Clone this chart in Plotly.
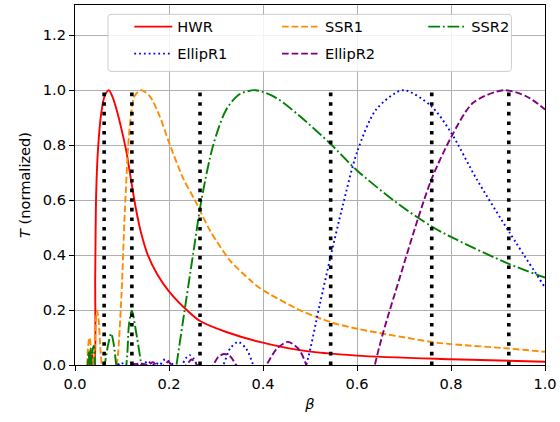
import plotly.graph_objects as go

# ---------------- data ----------------
hwr_beta = [0.030, 0.033, 0.036, 0.039, 0.041, 0.043, 0.045, 0.049, 0.056, 0.063, 0.072,
            0.080, 0.090, 0.100, 0.110, 0.120, 0.130, 0.140, 0.155, 0.175, 0.199,
            0.244, 0.266, 0.322, 0.393, 0.478, 0.600, 0.800, 1.000]
hwr_T = [-0.04, 0.02, 0.04, 0.0, 0.0, 0.32, 0.62, 0.786, 0.918, 0.978, 1.0,
         0.975, 0.92, 0.85, 0.77, 0.665, 0.565, 0.485, 0.40, 0.33, 0.27,
         0.19, 0.16, 0.12, 0.084, 0.054, 0.034, 0.021, 0.012]

ssr1_beta = [0.026, 0.028, 0.031, 0.034, 0.037, 0.039, 0.041, 0.044, 0.047, 0.050, 0.054,
             0.057, 0.065, 0.075, 0.084, 0.089, 0.092, 0.099, 0.106, 0.116, 0.127,
             0.141, 0.159, 0.180, 0.200, 0.230, 0.255, 0.287, 0.330, 0.372, 0.393,
             0.478, 0.544, 0.600, 0.759, 0.800, 0.923, 1.000]
ssr1_T = [0.0, 0.07, 0.10, 0.06, 0.0, -0.03, 0.02, 0.15, 0.198, 0.17, 0.06,
          0.0, -0.10, -0.12, -0.06, 0.0, 0.05, 0.258, 0.558, 0.858, 0.98,
          1.0, 0.978, 0.906, 0.81, 0.68, 0.60, 0.49, 0.38, 0.31, 0.28,
          0.20, 0.156, 0.132, 0.084, 0.076, 0.060, 0.048]

ssr2_beta = [0.026, 0.028, 0.029, 0.031, 0.033, 0.035, 0.037, 0.040, 0.043, 0.050, 0.057,
             0.063, 0.070, 0.077, 0.083, 0.088, 0.098, 0.109, 0.115, 0.121, 0.129,
             0.141, 0.160, 0.185, 0.205, 0.216, 0.230, 0.251, 0.269, 0.294, 0.322,
             0.350, 0.384, 0.428, 0.478, 0.544, 0.600, 0.691, 0.759, 0.800, 0.923,
             1.000]
ssr2_T = [-0.02, 0.02, 0.05, 0.0, 0.06, 0.0, 0.05, 0.07, 0.0, -0.06, -0.04,
          0.0, 0.07, 0.114, 0.07, 0.0, -0.06, 0.0, 0.15, 0.198, 0.13,
          0.0, -0.25, -0.30, -0.15, 0.0, 0.162, 0.40, 0.60, 0.80, 0.93,
          0.985, 1.0, 0.972, 0.906, 0.804, 0.708, 0.582, 0.504, 0.466, 0.368,
          0.318]

ellipr1_beta = [0.090, 0.099, 0.108, 0.120, 0.127, 0.135, 0.145, 0.155, 0.165, 0.172,
                0.180, 0.191, 0.209, 0.218, 0.228, 0.236, 0.244, 0.252, 0.260, 0.287,
                0.315, 0.330, 0.347, 0.364, 0.379, 0.410, 0.450, 0.492, 0.521, 0.544,
                0.570, 0.600, 0.641, 0.698, 0.758, 0.800, 0.854, 0.923, 1.000]
ellipr1_T = [0.0, 0.007, 0.0, -0.01, 0.008, 0.0, 0.0, 0.015, 0.0, 0.008,
             0.0, 0.02, 0.0, -0.02, 0.0, 0.025, 0.036, 0.025, 0.0, -0.05,
             0.0, 0.06, 0.084, 0.06, 0.0, -0.20, -0.20, 0.0, 0.222, 0.396,
             0.582, 0.774, 0.930, 1.0, 0.942, 0.846, 0.678, 0.486, 0.282]

ellipr2_beta = [0.120, 0.140, 0.155, 0.166, 0.173, 0.180, 0.190, 0.198, 0.206, 0.220,
                0.237, 0.248, 0.260, 0.277, 0.294, 0.305, 0.318, 0.331, 0.343, 0.375,
                0.407, 0.430, 0.453, 0.475, 0.492, 0.530, 0.580, 0.620, 0.638, 0.655,
                0.691, 0.730, 0.759, 0.800, 0.847, 0.912, 0.960, 1.000]
ellipr2_T = [0.0, 0.006, 0.0, 0.01, 0.0, -0.005, 0.0, 0.012, 0.0, -0.02,
             0.0, 0.02, 0.0, -0.03, 0.0, 0.03, 0.04, 0.03, 0.0, -0.08,
             0.0, 0.06, 0.084, 0.06, 0.0, -0.30, -0.40, -0.15, 0.0, 0.114,
             0.318, 0.534, 0.678, 0.828, 0.954, 1.0, 0.978, 0.930]

vline_beta = [0.062, 0.121, 0.266, 0.544, 0.759, 0.923]
vline_T_bottom = 0.0
vline_T_top = 1.0

x_ticks = [0.0, 0.2, 0.4, 0.6, 0.8, 1.0]
y_ticks = [0.0, 0.2, 0.4, 0.6, 0.8, 1.0, 1.2]

# ---------------- figure ----------------
FONT = "DejaVu Sans"
FS = 14.6
LW = 1.9

fig = go.Figure()

# (name, x, y, colour, dash, legend id, legend x (paper), legend y (paper))
series = [
    ("HWR", hwr_beta, hwr_T, "#ff0000", "solid", "legend", 0.1155, 0.940),
    ("SSR1", ssr1_beta, ssr1_T, "#ff8c00", "6.7px,2.9px", "legend2", 0.4298, 0.940),
    ("SSR2", ssr2_beta, ssr2_T, "#008000", "11.7px,2.9px,1.8px,2.9px", "legend3", 0.741, 0.940),
    ("EllipR1", ellipr1_beta, ellipr1_T, "#0000ff", "1.8px,3px", "legend4", 0.1155, 0.865),
    ("EllipR2", ellipr2_beta, ellipr2_T, "#800080", "6.7px,2.9px", "legend5", 0.4298, 0.865),
]
legends = {}
for name, xs, ys, col, dash, lg, lx, ly in series:
    fig.add_trace(go.Scatter(
        x=xs, y=ys, name=name, mode="lines", legend=lg,
        line=dict(color=col, width=LW, dash=dash, shape="spline", smoothing=0.8),
    ))
    legends[lg] = dict(x=lx, y=ly, orientation="h", xanchor="left", yanchor="middle",
                       bgcolor="rgba(0,0,0,0)", borderwidth=0, itemwidth=38,
                       font=dict(family=FONT, size=FS, color="black"))

vx, vy = [], []
for b in vline_beta:
    vx += [b, b, None]
    vy += [vline_T_bottom, vline_T_top, None]
fig.add_trace(go.Scatter(x=vx, y=vy, mode="lines", showlegend=False,
                         line=dict(color="black", width=3.6, dash="3.6px,6px")))

# rounded legend frame (paper coords)
x0, x1, y0, y1 = 0.0702, 0.9285, 0.8156, 0.974
rx, ry = 0.0064, 0.0083
path = (f"M{x0+rx},{y1} L{x1-rx},{y1} Q{x1},{y1} {x1},{y1-ry} L{x1},{y0+ry} "
        f"Q{x1},{y0} {x1-rx},{y0} L{x0+rx},{y0} Q{x0},{y0} {x0},{y0+ry} "
        f"L{x0},{y1-ry} Q{x0},{y1} {x0+rx},{y1} Z")
fig.add_shape(type="path", path=path, xref="paper", yref="paper",
              fillcolor="rgba(255,255,255,0.85)", line=dict(color="#cccccc", width=1),
              layer="above")

fig.update_layout(
    width=560, height=422,
    margin=dict(l=75.3, r=14.7, t=3.3, b=57, pad=0),
    paper_bgcolor="white", plot_bgcolor="white",
    font=dict(family=FONT, size=FS, color="black"),
    **legends,
)
axis_common = dict(showline=True, linecolor="black", linewidth=1.2, mirror=True,
                   ticks="outside", ticklen=5, tickwidth=1.2, tickcolor="black",
                   showgrid=True, gridcolor="#b0b0b0", gridwidth=1, zeroline=False,
                   tickfont=dict(family=FONT, size=FS, color="black"))
fig.update_xaxes(range=[0, 1], tickvals=x_ticks, tickformat=".1f",
                 title=dict(text="<i>β</i>", font=dict(family=FONT, size=FS), standoff=8),
                 **axis_common)
fig.update_yaxes(range=[0, 1.31], tickvals=y_ticks, tickformat=".1f",
                 title=dict(text="<i>T</i> (normalized)", font=dict(family=FONT, size=FS), standoff=8),
                 **axis_common)

fig.write_html("out.html")
